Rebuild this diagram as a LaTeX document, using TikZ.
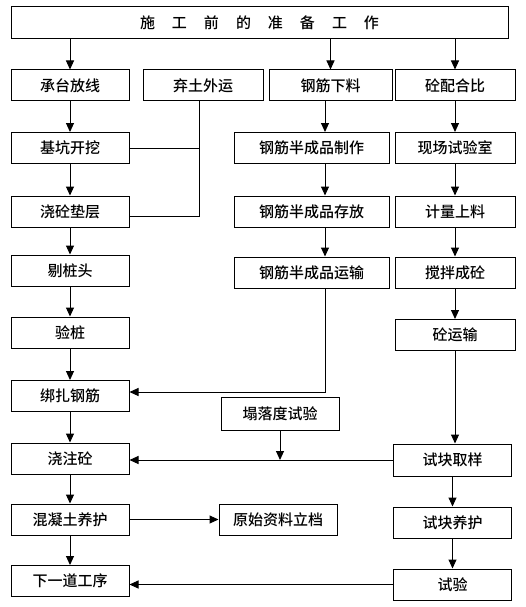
\documentclass[tikz,border=0pt]{standalone}
\usepackage{fontspec}
\newfontfamily\cjk{Noto Sans CJK SC Medium}
\usetikzlibrary{positioning,calc,arrows.meta}
\tikzset{
  >={Triangle[length=9pt,width=8pt]},
  my box/.style={
    draw,
    rectangle,
    inner sep=0pt,
    minimum height=31pt,
    minimum width=118pt,
    font=\cjk\fontsize{15}{18}\selectfont
  },
  wide box/.style={my box,minimum width=155pt},
  right box/.style={my box,minimum width=120pt},
  my flow/.style={
    x=1pt,
    y=-1pt,
    line width=1pt
  }
}
\newcommand{\kong}{\hspace{17pt}}

\begin{document}
\begin{tikzpicture}[my flow]
\useasboundingbox (0,0) rectangle (526,607);
\node[my box,minimum width=497pt,minimum height=32pt] (sg) at (259.5,23) {施\kong 工\kong 前\kong 的\kong 准\kong 备\kong 工\kong 作};
\node[my box] (cf) at (70,85.5) {承台放线};
\node[right box] (qt) at (203,85.5) {弃土外运};
\node[my box,minimum width=123pt] (gx) at (330.5,85.5) {钢筋下料};
\node[right box] (pb) at (455,85.5) {砼配合比};
\node[my box] (jk) at (70,148) {基坑开挖};
\node[wide box] (gjzz) at (311.5,148) {钢筋半成品制作};
\node[right box] (sys) at (455,148) {现场试验室};
\node[my box] (dc) at (70,211.5) {浇砼垫层};
\node[wide box] (gjcf) at (311.5,211.5) {钢筋半成品存放};
\node[right box] (jl) at (455,211.5) {计量上料};
\node[my box] (tz) at (70,270.5) {剔桩头};
\node[wide box] (gjys) at (311.5,272.5) {钢筋半成品运输};
\node[right box] (jb) at (455,272.5) {搅拌成砼};
\node[my box] (yz) at (70,332.5) {验桩};
\node[right box] (ty) at (455,335) {砼运输};
\node[my box] (bz) at (70,396) {绑扎钢筋};
\node[my box,minimum height=33pt] (tl) at (280,413.5) {塌落度试验};
\node[my box] (jz) at (70,458.5) {浇注砼};
\node[my box,minimum height=32pt] (qy) at (452.5,460) {试块取样};
\node[my box] (yh) at (70,519.5) {混凝土养护};
\node[my box] (gd) at (278,519.5) {原始资料立档};
\node[my box] (qh) at (452.5,522.5) {试块养护};
\node[my box] (xd) at (70,581) {下一道工序};
\node[my box] (sy) at (452.5,584.5) {试验};
\coordinate (gl) at (325,0);
\coordinate (ql) at (199,0);
% columns
\foreach \b in {cf,gx,pb}
  \draw[->] (sg.south -| \b) -- (\b);
\foreach \a/\b in {cf/jk,jk/dc,dc/tz,tz/yz,yz/bz,bz/jz,jz/yh,yh/xd,pb/sys,sys/jl,jl/jb,jb/ty,ty/qy,qy/qh,qh/sy}
  \draw[->] (\a) -- (\a |- \b.north);
\foreach \a/\b in {gx/gjzz,gjzz/gjcf,gjcf/gjys}
  \draw[->] (\a.south -| gl) -- (\b.north -| gl);
% side links
\draw (qt.south -| ql) |- ([yshift=-4.5pt]dc.east);
\draw (jk.east) -- (jk.east -| ql);
\draw[->] (gjys.south -| gl) |- ([yshift=4pt]bz.east);
\draw[->] (qy) -- (qy -| jz.east);
\draw[->] (tl) -- (tl |- qy);
\draw[->] (yh) -- (gd);
\draw[->] (sy) -- (sy -| xd.east);
\end{tikzpicture}
\end{document}
